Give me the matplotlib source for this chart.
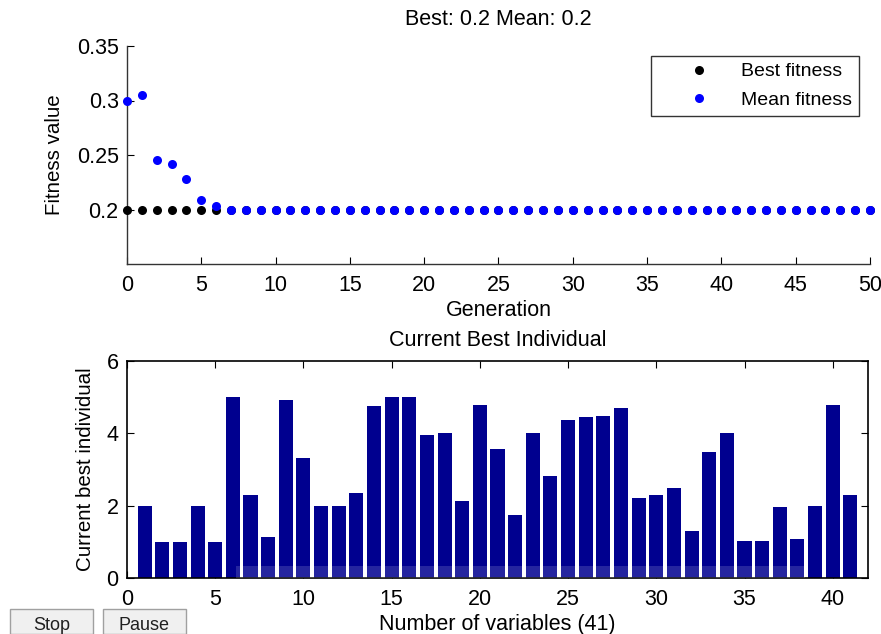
import matplotlib
matplotlib.use("Agg")
import matplotlib.pyplot as plt
from matplotlib.patches import Rectangle
import numpy as np

plt.rcParams['font.family'] = ['Liberation Sans', 'DejaVu Sans']

# ---- data ----
generations = list(range(0, 51))
best_fitness = [0.2] * 51
mean_fitness = [0.300, 0.305, 0.245, 0.242, 0.228, 0.2086, 0.2028] + [0.2] * 44

variables = list(range(1, 42))
best_individual = [2.0, 1.0, 1.0, 2.0, 1.0, 5.0, 2.3, 1.14, 4.92, 3.32,
                   2.0, 2.0, 2.36, 4.76, 5.0, 5.0, 3.96, 4.0, 2.13, 4.78,
                   3.57, 1.75, 4.0, 2.82, 4.37, 4.45, 4.48, 4.70, 2.22, 2.30,
                   2.49, 1.31, 3.49, 4.0, 1.03, 1.03, 1.97, 1.09, 2.0, 4.78,
                   2.30]

top_xticks = list(range(0, 51, 5))
top_yticks = [0.2, 0.25, 0.3, 0.35]
top_yticklabels = ['0.2', '0.25', '0.3', '0.35']
bot_xticks = list(range(0, 41, 5))
bot_yticks = [0, 2, 4, 6]

W, H = 881, 634
fig = plt.figure(figsize=(W / 100, H / 100), dpi=100)
fig.patch.set_facecolor('white')

FS = 15.5    # horizontal texts
FSV = 14.8   # vertical labels

# ---- top axes ----
ax1 = fig.add_axes([127 / W, 1 - 264 / H, (870 - 127) / W, (264 - 46) / H])
ax1.plot(generations, best_fitness, 'o', color='black', markersize=6.5,
         markeredgewidth=0, label='Best fitness', clip_on=False, zorder=3)
ax1.plot(generations, mean_fitness, 'o', color='#0000ff', markersize=6.5,
         markeredgewidth=0, label='Mean fitness', clip_on=False, zorder=4)
ax1.set_xlim(0, 50)
ax1.set_ylim(0.15, 0.35)
ax1.set_xticks(top_xticks)
ax1.set_yticks(top_yticks)
ax1.set_yticklabels(top_yticklabels)
ax1.spines['top'].set_visible(False)
ax1.spines['right'].set_visible(False)
for s in ('left', 'bottom'):
    ax1.spines[s].set_color('#333333')
    ax1.spines[s].set_linewidth(1.0)
ax1.tick_params(direction='in', length=5, labelsize=FS, colors='black')
ax1.tick_params(axis='x', pad=8)
ax1.tick_params(axis='y', pad=6)
ax1.set_xlabel('Generation', fontsize=FS, labelpad=3)
ax1.set_ylabel('Fitness value', fontsize=FSV, labelpad=9)
ax1.set_title('Best: 0.2 Mean: 0.2', fontsize=FS, pad=15)
leg = ax1.legend(loc='upper right', bbox_to_anchor=((859 - 127) / (870 - 127), (264 - 56) / (264 - 46)),
                 fontsize=FS - 1.5, frameon=True, fancybox=False, edgecolor='black',
                 borderpad=0.35, handletextpad=0.0, handlelength=4.3, labelspacing=0.55,
                 borderaxespad=0, markerscale=1.0)
leg.get_frame().set_linewidth(1.0)

# ---- bottom axes ----
ax2 = fig.add_axes([127 / W, 1 - 578 / H, (868 - 127) / W, (578 - 361) / H])
ax2.bar(variables, best_individual, width=0.8, color='#00008f', edgecolor='none', zorder=2)
ax2.set_xlim(0, 42)
ax2.set_ylim(0, 6)
ax2.set_xticks(bot_xticks)
ax2.set_yticks(bot_yticks)
for s in ax2.spines.values():
    s.set_color('black')
    s.set_linewidth(1.2)
ax2.tick_params(direction='in', length=5, labelsize=FS,
                top=True, right=True, labeltop=False, labelright=False)
ax2.tick_params(axis='x', pad=8)
ax2.tick_params(axis='y', pad=6)
ax2.set_xlabel('Number of variables (41)', fontsize=FS, labelpad=3)
ax2.set_ylabel('Current best individual', fontsize=FSV, labelpad=8)
ax2.set_title('Current Best Individual', fontsize=FS, pad=11)

# faint watermark band near the base of the bars
fig.patches.append(Rectangle((236 / W, 1 - 578 / H), (805 - 236) / W, 12 / H,
                             transform=fig.transFigure, facecolor='white',
                             alpha=0.15, edgecolor='none', zorder=5))

# ---- buttons ----
for x0, x1, label in [(10, 93, 'Stop'), (103, 186, 'Pause')]:
    fig.patches.append(Rectangle((x0 / W, 0), (x1 - x0) / W, (634 - 609) / H,
                                 transform=fig.transFigure, facecolor='#f0f0f0',
                                 edgecolor='#a0a0a0', linewidth=1.0, zorder=5))
    fig.text((x0 + x1) / 2 / W, 1 - 626 / H, label, ha='center', va='center',
             fontsize=13, color='#202020', zorder=6)

fig.savefig('out.png', dpi=100)
